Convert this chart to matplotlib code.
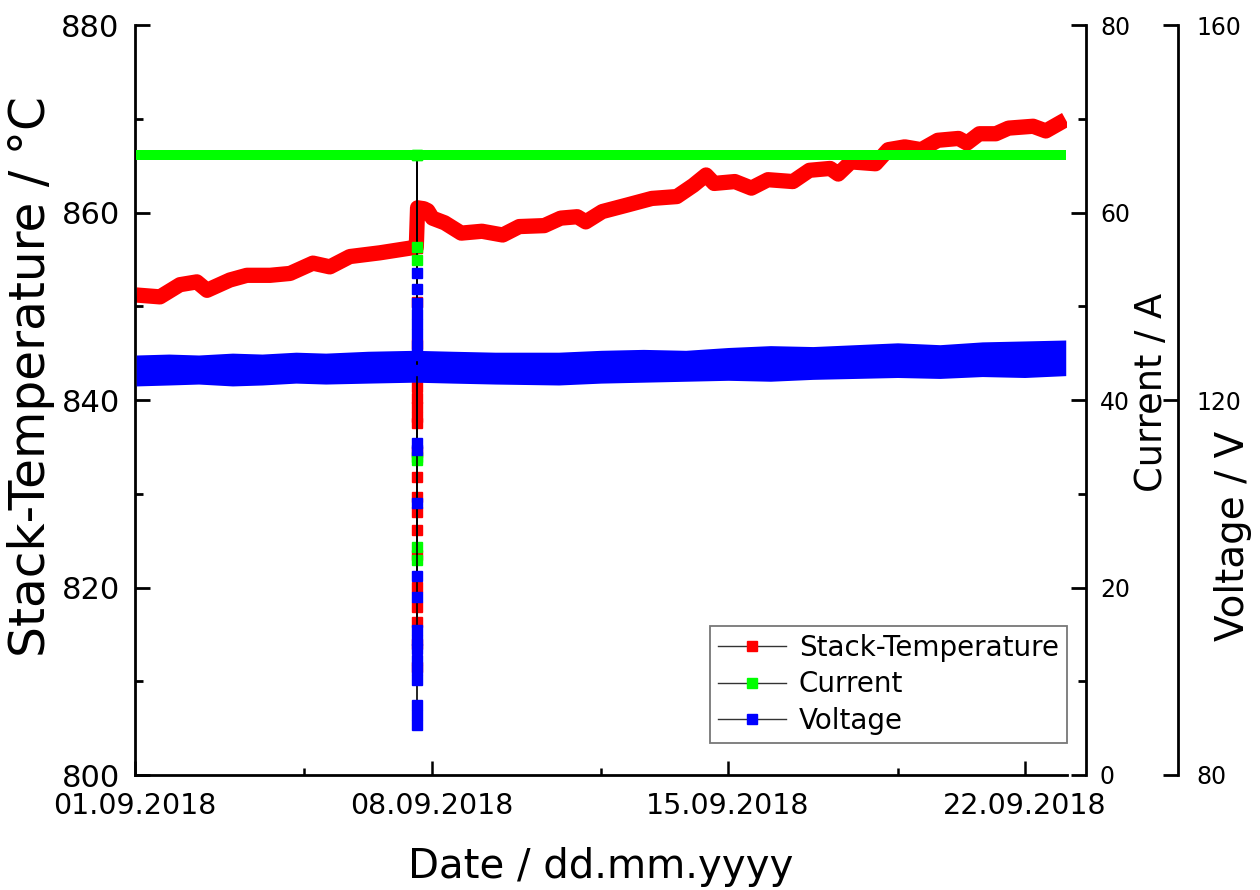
import numpy as np
import matplotlib
matplotlib.use("Agg")
import matplotlib.pyplot as plt
import matplotlib.dates as mdates
from matplotlib.lines import Line2D

# days after 01.09.2018 00:00
temp_days = [0.03, 0.59, 1.06, 1.46, 1.70, 2.24, 2.64, 3.19, 3.66, 4.20, 4.60, 5.07, 5.78, 6.49, 6.64,
             6.67, 6.82, 6.91, 7.02, 7.31, 7.70, 8.19, 8.68, 9.07, 9.66, 10.05, 10.44, 10.64, 11.03,
             11.62, 12.20, 12.79, 13.18, 13.48, 13.67, 14.16, 14.55, 14.94, 15.53, 15.92, 16.41,
             16.60, 16.90, 17.48, 17.78, 18.17, 18.56, 18.95, 19.44, 19.64, 19.93, 20.32, 20.62,
             21.20, 21.50, 21.89, 21.97]
temp_vals = [851.2, 851.0, 852.3, 852.6, 851.7, 852.8, 853.3, 853.3, 853.5, 854.6, 854.2, 855.3, 855.7, 856.2, 856.3,
             860.5, 860.4, 860.2, 859.4, 858.9, 857.8, 858.0, 857.6, 858.5, 858.6, 859.4, 859.55, 859.0, 860.1,
             860.8, 861.5, 861.7, 862.9, 864.0, 863.1, 863.3, 862.6, 863.5, 863.3, 864.5, 864.7,
             864.1, 865.4, 865.2, 866.7, 867.0, 866.7, 867.7, 867.9, 867.4, 868.4, 868.4, 869.0,
             869.2, 868.7, 869.7, 869.9]

cur_days = [0.03, 21.97]
cur_vals = [66.1, 66.1]

volt_days = [0.03, 0.8, 1.5, 2.3, 3.0, 3.8, 4.5, 5.5, 6.6, 7.5, 8.5, 10.0, 11.0, 12.0, 13.0, 14.0,
             15.0, 16.0, 17.0, 18.0, 19.0, 20.0, 21.0, 21.97]
volt_upper = [124.8, 124.9, 124.8, 125.0, 124.9, 125.1, 125.0, 125.2, 125.3, 125.2, 125.1, 125.1, 125.3,
              125.4, 125.3, 125.6, 125.8, 125.7, 125.9, 126.1, 125.9, 126.2, 126.3, 126.4]
volt_lower = [121.5, 121.6, 121.7, 121.5, 121.6, 121.8, 121.7, 121.8, 121.9, 121.8, 121.7, 121.6, 121.8,
              121.9, 122.0, 122.1, 122.0, 122.2, 122.3, 122.4, 122.3, 122.5, 122.4, 122.6]

# glitch on 07.09.2018
spike_day = 6.655
spike_temp = [856.2, 850.5, 846.0, 841.4, 840.2, 839.3, 838.2, 837.5, 834.5, 831.8, 829.7, 828.1,
              826.1, 823.5, 820.1, 817.9, 816.3, 814.0, 811.5, 860.5]
spike_cur = [66.1, 56.3, 54.9, 33.9, 33.6, 24.3, 22.9, 66.1]
spike_volt = [123.2, 133.5, 131.8, 130.3, 129.2, 128.1, 127.0, 125.9, 124.8, 115.4, 114.7, 109.0,
              101.2, 99.0, 95.5, 94.4, 93.4, 92.3, 91.2, 90.1, 87.5, 86.4, 85.3]

base = mdates.date2num(np.datetime64("2018-09-01T00:00"))
def tx(d):
    return base + np.asarray(d, dtype=float)

plt.rcParams['font.family'] = ['DejaVu Sans']

fig = plt.figure(figsize=(12.6, 8.9), dpi=100)
ax = fig.add_axes([135/1260, 1-775/890, 932/1260, 750/890])
ax2 = ax.twinx()
ax3 = ax.twinx()

# temperature
ax.plot(tx(temp_days), temp_vals, color='red', lw=11, solid_joinstyle='round', solid_capstyle='butt', zorder=2)
ax.plot(tx([spike_day]*len(spike_temp)), spike_temp, color='black', lw=1.2, marker='s', ms=6.5,
        mfc='red', mec='red', zorder=3)

# current
ax2.plot(tx(cur_days), cur_vals, color='#00ff00', lw=7.2, solid_capstyle='butt', zorder=2)
ax2.plot(tx([spike_day]*len(spike_cur)), spike_cur, color='black', lw=1.2, marker='s', ms=6.5,
         mfc='#00ff00', mec='#00ff00', zorder=3)

# voltage
ax3.fill_between(tx(volt_days), volt_lower, volt_upper, color='blue', lw=0, zorder=2)
ax3.plot(tx([spike_day]*len(spike_volt)), spike_volt, color='black', lw=1.2, marker='s', ms=6.5,
         mfc='blue', mec='blue', zorder=3)

ax.set_xlim(tx(0), tx(22))
ax.set_ylim(800, 880)
ax2.set_ylim(0, 80)
ax3.set_ylim(80, 160)

ax.set_xticks(tx([0, 7, 14, 21]))
ax.set_xticks(tx([4, 11, 18]), minor=True)
ax.xaxis.set_major_formatter(mdates.DateFormatter('%d.%m.%Y'))
ax.set_yticks([800, 820, 840, 860, 880])
ax.set_yticks(np.arange(810, 880, 20), minor=True)
ax2.set_yticks([0, 20, 40, 60, 80])
ax2.set_yticks([10, 30, 50, 70], minor=True)
ax3.set_yticks([80, 120, 160])
ax3.set_yticks([], minor=True)

for a in (ax, ax2, ax3):
    for s in a.spines.values():
        s.set_visible(False)
        s.set_linewidth(2)
ax.spines['left'].set_visible(True)
ax.spines['bottom'].set_visible(True)
ax2.spines['right'].set_visible(True)
ax2.spines['right'].set_position(('outward', 19*0.72))
ax3.spines['right'].set_visible(True)
ax3.spines['right'].set_position(('outward', 111*0.72))

ax.tick_params(axis='y', which='major', direction='in', length=11, width=2, labelsize=22, pad=11)
ax.tick_params(axis='y', which='minor', direction='in', length=6, width=2)
ax.tick_params(axis='x', which='major', direction='in', length=10, width=1.8, labelsize=20.5, pad=12)
ax.tick_params(axis='x', which='minor', direction='in', length=5, width=1.8)
ax2.tick_params(axis='y', which='major', direction='in', length=11, width=2, labelsize=17, pad=10)
ax2.tick_params(axis='y', which='minor', direction='in', length=6, width=2)
ax3.tick_params(axis='y', which='major', direction='in', length=11, width=2, labelsize=17, pad=13)

ax.set_xlabel('Date / dd.mm.yyyy', fontsize=29, labelpad=20)
ax.set_ylabel('Stack-Temperature / °C', fontsize=35)
ax.yaxis.set_label_coords(-0.086, 0.532)
ax2.set_ylabel('Current / A', fontsize=26.5)
ax2.yaxis.set_label_coords(1.071, 0.51)
ax3.set_ylabel('Voltage / V', fontsize=28)
ax3.yaxis.set_label_coords(1.158, 0.319)

handles = [Line2D([], [], color='#333333', lw=1, marker='s', ms=6.5, mfc=c, mec=c)
           for c in ('red', '#00ff00', 'blue')]
leg = ax3.legend(handles, ['Stack-Temperature', 'Current', 'Voltage'], loc='lower right',
                 bbox_to_anchor=(1.0, 32/750), bbox_transform=ax.transAxes, fontsize=20,
                 frameon=True, fancybox=False, borderaxespad=0, handlelength=2.45,
                 handletextpad=0.45, labelspacing=0.3, borderpad=0.3)
leg.get_frame().set_edgecolor('#555555')
leg.get_frame().set_linewidth(1.3)

fig.savefig('out.png', dpi=100)
